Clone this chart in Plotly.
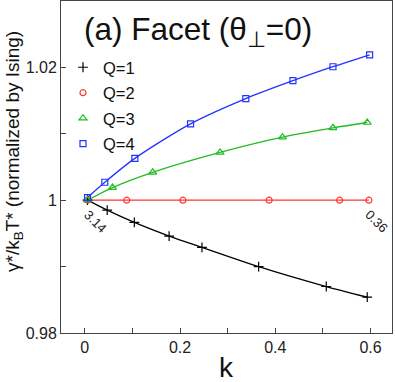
import plotly.graph_objects as go

# Data
k_q1 = [0.0057, 0.047, 0.104, 0.177, 0.246, 0.365, 0.507, 0.593]
v_q1 = [1.0, 0.9985, 0.99665, 0.9946, 0.9929, 0.9900, 0.9870, 0.9854]

k_q2 = [0.0057, 0.088, 0.206, 0.387, 0.535, 0.5965]
v_q2 = [1.0, 1.0, 1.0, 1.0, 1.0, 1.0]

k_q3 = [0.0057, 0.058, 0.1425, 0.284, 0.415, 0.521, 0.593]
v_q3 = [1.0, 1.0019, 1.0042, 1.0072, 1.0095, 1.0109, 1.0117]

k_q4 = [0.0057, 0.042, 0.105, 0.222, 0.338, 0.437, 0.521, 0.598]
v_q4 = [1.0004, 1.0027, 1.0063, 1.0115, 1.0153, 1.0180, 1.0201, 1.0219]

names = ["Q=1", "Q=2", "Q=3", "Q=4"]
colors = ["#000000", "#ff3333", "#22bb22", "#2233ff"]
symbols = ["cross-thin-open", "circle-open", "triangle-up-open", "square-open"]
sizes = [7, 6, 7, 6]
series = [(k_q1, v_q1), (k_q2, v_q2), (k_q3, v_q3), (k_q4, v_q4)]

FONT = "Liberation Sans, Arial, sans-serif"

fig = go.Figure()
for (kx, vy), c in zip(series, colors):
    fig.add_trace(go.Scatter(x=kx, y=vy, mode="lines",
                             line=dict(color=c, width=1.3, shape="spline", smoothing=0.8),
                             showlegend=False, hoverinfo="skip"))
for (kx, vy), n, c, s, sz in zip(series, names, colors, symbols, sizes):
    fig.add_trace(go.Scatter(x=kx, y=vy, mode="markers", name=n, legendgroup=n,
                             marker=dict(symbol=s, size=sz, color=c,
                                         line=dict(color=c, width=1.2))))

axis_common = dict(showline=True, linecolor="#444444", linewidth=1, mirror=True,
                   ticks="inside", ticklen=5, tickcolor="#444444", showgrid=False, zeroline=False,
                   tickfont=dict(family=FONT, size=16, color="#222222"))

fig.update_xaxes(range=[-0.05, 0.645], tick0=0, dtick=0.2,
                 minor=dict(dtick=0.1, ticks="inside", ticklen=5, tickcolor="#444444"),
                 **axis_common)
fig.update_yaxes(range=[0.98, 1.03], tick0=0.98, dtick=0.02,
                 minor=dict(dtick=0.01, ticks="inside", ticklen=5, tickcolor="#444444"),
                 **axis_common)

fig.add_annotation(text="(a) Facet (θ<sub>⊥</sub>=0)", xref="paper", yref="paper",
                   x=(82 - 61) / 331, y=(333 - 31) / 332, xanchor="left", yanchor="middle",
                   showarrow=False, font=dict(family=FONT, size=31.5, color="#111111"))
fig.add_annotation(text="γ*/k<sub>B</sub>T* (normalized by Ising)", xref="paper", yref="paper",
                   x=(14 - 61) / 331, y=(333 - 152) / 332, xanchor="center", yanchor="middle",
                   textangle=-90, showarrow=False, font=dict(family=FONT, size=19, color="#111111"))
fig.add_annotation(text="k", xref="paper", yref="paper",
                   x=(226 - 61) / 331, y=(333 - 367) / 332, xanchor="center", yanchor="middle",
                   showarrow=False, font=dict(family=FONT, size=28, color="#111111"))
fig.add_annotation(text="3.14", x=0.0057, y=1.0, xref="x", yref="y", showarrow=False,
                   textangle=45, xshift=8, yshift=-21, font=dict(family=FONT, size=13, color="#222222"))
fig.add_annotation(text="0.36", x=0.5965, y=1.0, xref="x", yref="y", showarrow=False,
                   textangle=45, xshift=8, yshift=-21, font=dict(family=FONT, size=13, color="#222222"))

fig.update_layout(width=395, height=382,
                  margin=dict(l=61, r=3, t=1, b=49),
                  paper_bgcolor="white", plot_bgcolor="white",
                  font=dict(family=FONT),
                  legend=dict(x=2 / 331, y=(333 - 50) / 332, xanchor="left", yanchor="top",
                              bgcolor="rgba(0,0,0,0)", font=dict(family=FONT, size=16.5, color="#111111"),
                              itemwidth=30, traceorder="grouped", tracegroupgap=1))

fig.write_html("out.html", post_script="document.body.style.margin='0';",
               config={"displayModeBar": False})
